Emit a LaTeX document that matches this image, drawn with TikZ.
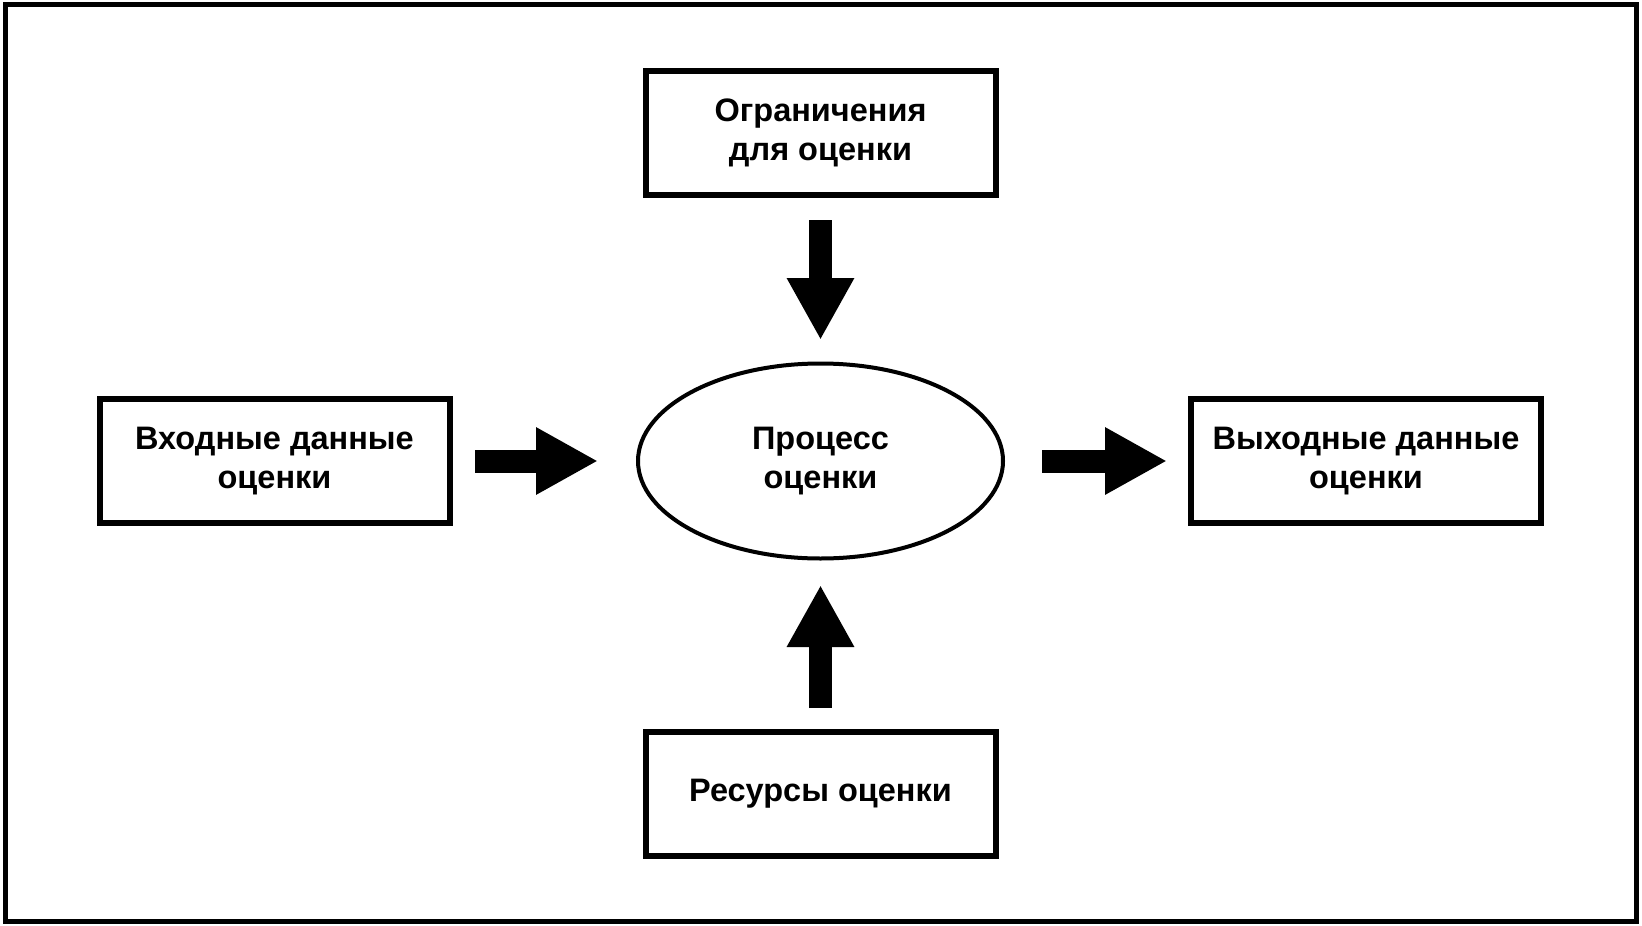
\documentclass[tikz,border=0pt]{standalone}
\usepackage{fontspec}
\setmainfont{Liberation Sans}
\usetikzlibrary{arrows.meta,shapes.geometric}
\begin{document}
\begin{tikzpicture}[
      x=1pt, y=-1pt,
      every node/.style={font=\fontsize{32.5}{39}\selectfont\bfseries, align=center, inner sep=0pt},
      stage/.style={draw, rectangle, line width=6pt, minimum width=350pt, minimum height=124pt},
      process/.style={draw, ellipse, line width=4pt, minimum width=365pt, minimum height=195pt},
      flow/.style={line width=23pt, -{Triangle[width=63pt,length=62pt]}}
      ]
      \useasboundingbox (0,0) rectangle (1642,926);
      \draw[line width=5pt] (5.5,4.5) rectangle (1636,921.5);
      \node[process] (proc) at (820.5,461) {Процесс\\оценки};
      \node[stage] (constr) at (820.5,133) {Ограничения\\для оценки};
      \node[stage] (input) at (274.5,461) {Входные данные\\оценки};
      \node[stage] (output) at (1366,461) {Выходные данные\\оценки};
      \node[stage] (res) at (820.5,794) {Ресурсы оценки};
      \draw[flow, shorten <=22pt, shorten >=21.5pt] (constr) -- (proc);
      \draw[flow, shorten <=21pt, shorten >=24.5pt] (res) -- (proc);
      \draw[flow, shorten <=22.5pt, shorten >=38pt] (input) -- (proc);
      \draw[flow, shorten <=37pt, shorten >=21pt] (proc) -- (output);
\end{tikzpicture}
\end{document}
